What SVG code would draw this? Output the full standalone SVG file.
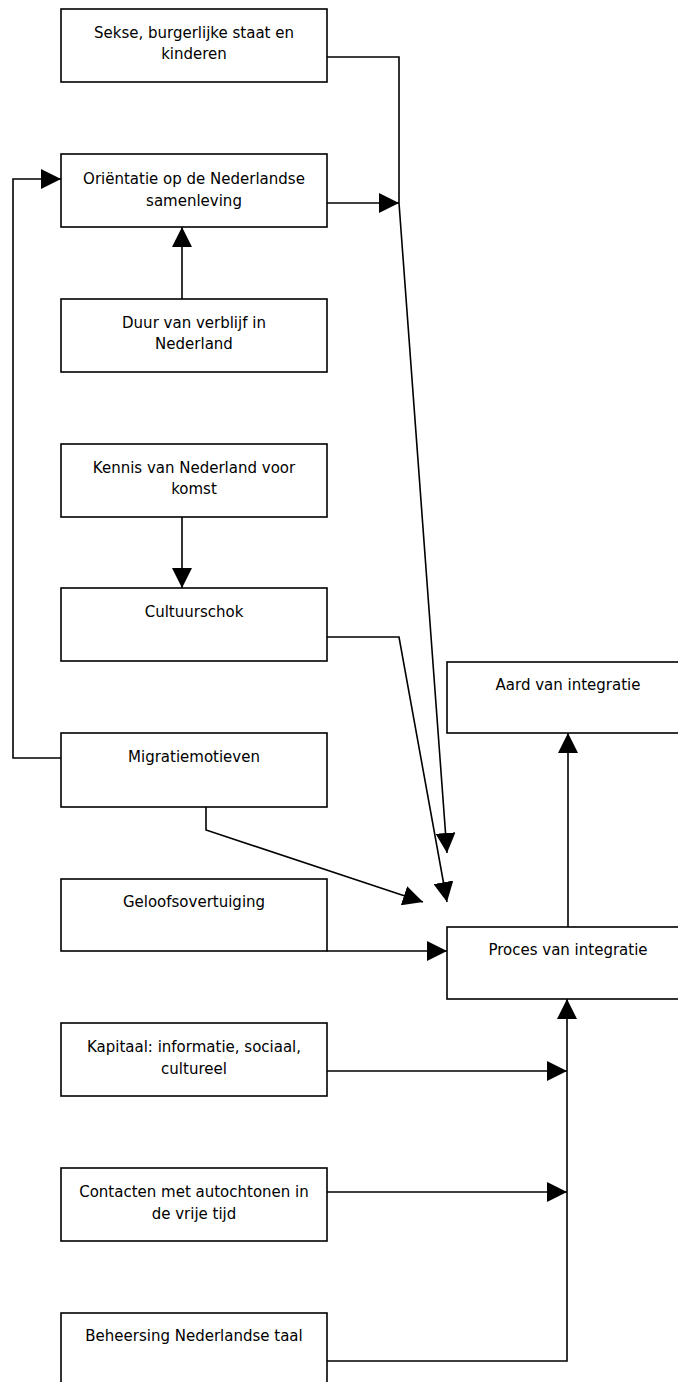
<svg xmlns="http://www.w3.org/2000/svg" width="678" height="1382" viewBox="0 0 678 1382">
<style>
.box{fill:#fff;stroke:#000;stroke-width:1.6}
.t{font-family:"DejaVu Sans",sans-serif;font-size:15px;fill:#000;text-anchor:middle}
.c{fill:none;stroke:#000;stroke-width:1.6}
</style>
<defs>
<marker id="ah" markerUnits="userSpaceOnUse" markerWidth="20" markerHeight="20" refX="20" refY="10" orient="auto">
<path d="M0,0 L20,10 L0,20 z" fill="#000"/>
</marker>
</defs>
<rect width="678" height="1382" fill="#fff"/>
<g id="connectors">
<path class="c" d="M327,57 H399 V203 L447,853" marker-end="url(#ah)"/>
<path class="c" d="M327,203 H399" marker-end="url(#ah)"/>
<path class="c" d="M182,299 V227" marker-end="url(#ah)"/>
<path class="c" d="M182,517 V588" marker-end="url(#ah)"/>
<path class="c" d="M327,637 H399 L447,902" marker-end="url(#ah)"/>
<path class="c" d="M206,807 V830 L423,902" marker-end="url(#ah)"/>
<path class="c" d="M61,758 H13 V179 H61" marker-end="url(#ah)"/>
<path class="c" d="M327,951 H447" marker-end="url(#ah)"/>
<path class="c" d="M568,927 V733" marker-end="url(#ah)"/>
<path class="c" d="M327,1071 H567" marker-end="url(#ah)"/>
<path class="c" d="M327,1192 H567" marker-end="url(#ah)"/>
<path class="c" d="M327,1361 H567 V999" marker-end="url(#ah)"/>
</g>
<g id="n1"><rect class="box" x="61" y="9" width="266" height="73"/><text class="t" x="194" y="38">Sekse, burgerlijke staat en</text><text class="t" x="194" y="59">kinderen</text></g>
<g id="n2"><rect class="box" x="61" y="154" width="266" height="73"/><text class="t" x="194" y="184">Oriëntatie op de Nederlandse</text><text class="t" x="194" y="206">samenleving</text></g>
<g id="n3"><rect class="box" x="61" y="299" width="266" height="73"/><text class="t" x="194" y="328">Duur van verblijf in</text><text class="t" x="194" y="349">Nederland</text></g>
<g id="n4"><rect class="box" x="61" y="444" width="266" height="73"/><text class="t" x="194" y="473">Kennis van Nederland voor</text><text class="t" x="194" y="494">komst</text></g>
<g id="n5"><rect class="box" x="61" y="588" width="266" height="73"/><text class="t" x="194" y="617">Cultuurschok</text></g>
<g id="n6"><rect class="box" x="61" y="733" width="266" height="74"/><text class="t" x="194" y="762">Migratiemotieven</text></g>
<g id="n7"><rect class="box" x="61" y="879" width="266" height="72"/><text class="t" x="194" y="907">Geloofsovertuiging</text></g>
<g id="n8"><rect class="box" x="61" y="1023" width="266" height="73"/><text class="t" x="194" y="1052">Kapitaal: informatie, sociaal,</text><text class="t" x="194" y="1074">cultureel</text></g>
<g id="n9"><rect class="box" x="61" y="1168" width="266" height="73"/><text class="t" x="194" y="1197">Contacten met autochtonen in</text><text class="t" x="194" y="1219">de vrije tijd</text></g>
<g id="n10"><rect class="box" x="61" y="1313" width="266" height="73"/><text class="t" x="194" y="1341">Beheersing Nederlandse taal</text></g>
<g id="n11"><rect class="box" x="447" y="662" width="266" height="71"/><text class="t" x="568" y="690">Aard van integratie</text></g>
<g id="n12"><rect class="box" x="447" y="927" width="266" height="72"/><text class="t" x="568" y="955">Proces van integratie</text></g>
</svg>
